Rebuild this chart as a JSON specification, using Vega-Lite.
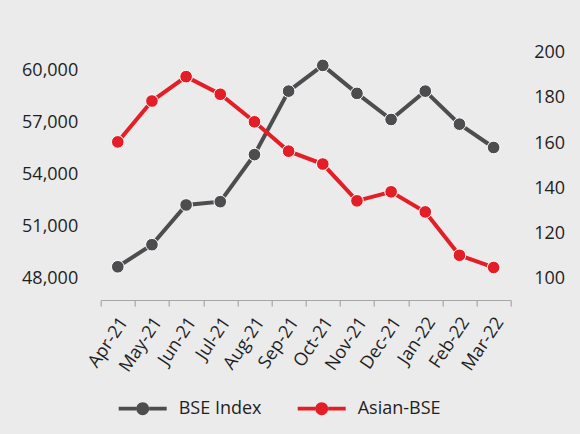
{
  "$schema": "https://vega.github.io/schema/vega-lite/v6.json",
  "autosize": "none",
  "width": 410,
  "height": 247.3,
  "padding": {"left": 100.7, "top": 52.7, "right": 69.3, "bottom": 134},
  "background": "#ebebeb",
  "config": {
    "view": {"stroke": null},
    "font": "Open Sans",
    "axis": {"labelFont": "Open Sans", "labelFontSize": 18, "labelColor": "#1f1f1f", "grid": false, "title": null},
    "legend": {"labelFont": "Open Sans", "labelFontSize": 18, "labelColor": "#1f1f1f"}
  },
  "data": {
    "values": [
      {"month": "Apr-21", "bse": 48690, "asian": 160.5},
      {"month": "May-21", "bse": 49960, "asian": 178.6},
      {"month": "Jun-21", "bse": 52245, "asian": 189.4},
      {"month": "Jul-21", "bse": 52435, "asian": 181.6},
      {"month": "Aug-21", "bse": 55140, "asian": 169.4},
      {"month": "Sep-21", "bse": 58790, "asian": 156.4},
      {"month": "Oct-21", "bse": 60270, "asian": 150.7},
      {"month": "Nov-21", "bse": 58660, "asian": 134.4},
      {"month": "Dec-21", "bse": 57160, "asian": 138.4},
      {"month": "Jan-22", "bse": 58790, "asian": 129.5},
      {"month": "Feb-22", "bse": 56890, "asian": 110.3},
      {"month": "Mar-22", "bse": 55550, "asian": 104.9}
    ]
  },
  "encoding": {
    "x": {
      "field": "month",
      "type": "ordinal",
      "sort": null,
      "bandPosition": 0.5,
      "scale": {"type": "band", "paddingInner": 0, "paddingOuter": 0},
      "axis": {
        "domainColor": "#a6a6a6",
        "domainWidth": 1.2,
        "tickColor": "#a6a6a6",
        "tickWidth": 1.2,
        "tickSize": 6,
        "tickBand": "extent",
        "labelAngle": -56,
        "labelAlign": "right",
        "labelBaseline": "middle",
        "labelPadding": 13,
        "labelOffset": 6
      }
    },
    "color": {
      "datum": "BSE Index",
      "type": "nominal"
    }
  },
  "layer": [
    {
      "mark": {"type": "line", "strokeWidth": 4, "point": {"filled": true, "size": 160, "stroke": "white", "strokeWidth": 1}},
      "encoding": {
        "y": {
          "field": "bse",
          "type": "quantitative",
          "scale": {"domain": [46780, 61000], "zero": false, "nice": false},
          "axis": {"orient": "left", "values": [48000, 51000, 54000, 57000, 60000], "format": ",d", "domain": false, "ticks": false, "tickSize": 0, "labelPadding": 23}
        },
        "color": {
          "datum": "BSE Index",
          "type": "nominal",
          "scale": {"domain": ["BSE Index", "Asian-BSE"], "range": ["#4d4d4f", "#e31e26"]},
          "legend": {
            "orient": "none",
            "direction": "horizontal",
            "legendX": 18,
            "legendY": 332,
            "title": null,
            "symbolType": "M-1,-0.08 L-0.27,-0.08 L-0.27,0.08 L-1,0.08 Z M0.27,-0.08 L1,-0.08 L1,0.08 L0.27,0.08 Z M0.27,0 A0.27,0.27 0 1,1 -0.27,0 A0.27,0.27 0 1,1 0.27,0 Z",
            "symbolSize": 2304,
            "symbolStrokeWidth": 0,
            "labelOffset": 12,
            "columnPadding": 36,
            "encode": {"symbols": {"update": {"fill": {"scale": "color", "field": "value"}, "opacity": {"value": 1}}}}
          }
        }
      }
    },
    {
      "mark": {"type": "line", "strokeWidth": 4, "point": {"filled": true, "size": 160, "stroke": "white", "strokeWidth": 1}},
      "encoding": {
        "y": {
          "field": "asian",
          "type": "quantitative",
          "scale": {"domain": [90.5, 200], "zero": false, "nice": false},
          "axis": {"orient": "right", "values": [100, 120, 140, 160, 180, 200], "domain": false, "ticks": false, "tickSize": 0, "labelPadding": 23}
        },
        "color": {"datum": "Asian-BSE", "type": "nominal"}
      }
    }
  ],
  "resolve": {"scale": {"y": "independent"}}
}
